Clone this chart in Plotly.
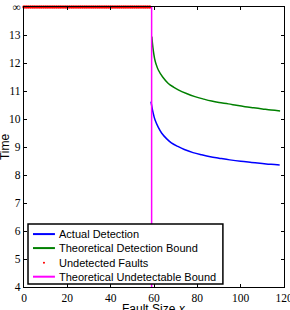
import plotly.graph_objects as go

# ---- data ----
blue_x = [58.6, 59.5, 60.5, 62, 63.5, 66, 68, 71, 74, 78, 82, 86, 90, 95, 100, 105, 110, 114, 118]
blue_y = [10.62, 10.25, 9.96, 9.70, 9.50, 9.28, 9.15, 9.02, 8.91, 8.80, 8.72, 8.65, 8.60, 8.54,
          8.49, 8.45, 8.41, 8.38, 8.36]

green_x = [59.0, 59.5, 60.3, 61, 62, 64, 66.6, 69, 71.2, 75, 78.9, 83, 86.6, 90, 94.3, 98, 102,
           106, 110, 114, 118.2]
green_y = [12.94, 12.55, 12.15, 11.95, 11.75, 11.50, 11.27, 11.14, 11.04, 10.91, 10.80, 10.71,
           10.64, 10.59, 10.54, 10.49, 10.44, 10.40, 10.36, 10.32, 10.29]

undetected_x = [0, 1, 2, 3, 4, 5, 6, 7, 8, 9, 10, 11, 12, 13, 14, 15, 16, 17, 18, 19, 20,
                21, 22, 23, 24, 25, 26, 27, 28, 29, 30, 31, 32, 33, 34, 35, 36, 37, 38, 39,
                40, 41, 42, 43, 44, 45, 46, 47, 48, 49, 50, 51, 52, 53, 54, 55, 56, 57, 58]
inf_value = 14  # plotted position of "infinity"

bound_x = [58.9, 58.9]
bound_y = [4, 14]

y_tickvals = [4, 5, 6, 7, 8, 9, 10, 11, 12, 13, 14]
y_ticktext = ["4", "5", "6", "7", "8", "9", "10", "11", "12", "13", "∞"]
x_tickvals = [0, 20, 40, 60, 80, 100, 120]

legend_names = ["Actual Detection", "Theoretical Detection Bound", "Undetected Faults",
                "Theoretical Undetectable Bound"]
legend_colors = ["#0000FF", "#008000", "#FF0000", "#FF00FF"]
legend_kinds = ["line", "line", "dot", "line"]

fig = go.Figure()
fig.add_trace(go.Scatter(x=blue_x, y=blue_y, mode="lines", name=legend_names[0],
                         line=dict(color=legend_colors[0], width=1.5), line_shape="spline"))
fig.add_trace(go.Scatter(x=green_x, y=green_y, mode="lines", name=legend_names[1],
                         line=dict(color=legend_colors[1], width=1.5), line_shape="spline"))
fig.add_trace(go.Scatter(x=undetected_x, y=[inf_value] * len(undetected_x), mode="markers",
                         name=legend_names[2],
                         marker=dict(color=legend_colors[2], size=3.5, line=dict(width=0)),
                         cliponaxis=False))
fig.add_trace(go.Scatter(x=bound_x, y=bound_y, mode="lines", name=legend_names[3],
                         line=dict(color=legend_colors[3], width=1.5)))

serif = "Liberation Serif, Times New Roman, serif"
sans = "Liberation Sans, Arial, sans-serif"

axis_common = dict(showline=True, linecolor="black", linewidth=1.2, mirror="ticks",
                   ticks="inside", ticklen=3, tickcolor="black", showgrid=False, zeroline=False,
                   tickfont=dict(family=serif, size=11.5, color="black"),
                   automargin=False, ticklabeloverflow="allow")

# ---- hand-built compact legend (paper coordinates) ----
box = dict(x0=0.0154, x1=0.765, y0=0.0107, y1=0.225)
row_y = [0.189, 0.139, 0.0868, 0.0368]
sample_x0, sample_x1, text_x = 0.0346, 0.119, 0.128

shapes = [dict(type="rect", xref="paper", yref="paper", layer="above",
               fillcolor="white", line=dict(color="black", width=1.5), **box)]
annotations = []
for name, color, kind, yy in zip(legend_names, legend_colors, legend_kinds, row_y):
    if kind == "line":
        shapes.append(dict(type="line", xref="paper", yref="paper", layer="above",
                           x0=sample_x0, x1=sample_x1, y0=yy, y1=yy,
                           line=dict(color=color, width=2)))
    else:
        cx = (sample_x0 + sample_x1) / 2
        shapes.append(dict(type="circle", xref="paper", yref="paper", layer="above",
                           x0=cx - 0.004, x1=cx + 0.004, y0=yy - 0.0037, y1=yy + 0.0037,
                           fillcolor=color, line=dict(width=0)))
    annotations.append(dict(text=name, xref="paper", yref="paper", x=text_x, y=yy,
                            xanchor="left", yanchor="middle", showarrow=False,
                            font=dict(family=sans, size=11, color="black")))

annotations += [
    dict(text="Time", xref="paper", yref="paper", x=-0.073, y=0.5, textangle=-90,
         showarrow=False, xanchor="center", yanchor="middle",
         font=dict(family=sans, size=12, color="black")),
    dict(text="Fault Size <i>x</i>", xref="paper", yref="paper", x=0.5, y=-0.047,
         showarrow=False, xanchor="center", yanchor="top",
         font=dict(family=sans, size=12, color="black")),
]

fig.update_layout(
    width=290, height=310,
    margin=dict(l=24, r=6, t=7, b=23),
    plot_bgcolor="white", paper_bgcolor="white",
    showlegend=False,
    xaxis=dict(range=[0, 120], tickvals=x_tickvals, **axis_common),
    yaxis=dict(range=[4, 14], tickvals=y_tickvals, ticktext=y_ticktext, **axis_common),
    shapes=shapes,
    annotations=annotations,
)

fig.write_html("out.html")
